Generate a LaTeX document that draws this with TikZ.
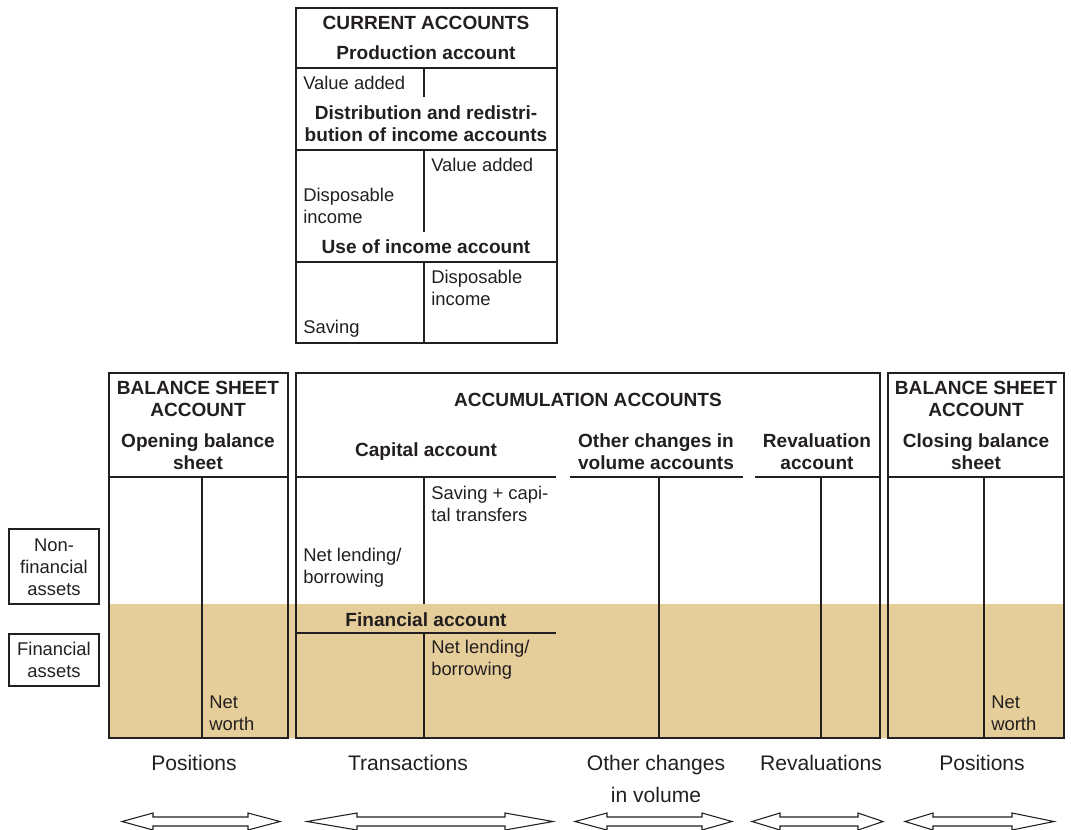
\documentclass[tikz,border=0pt]{standalone}
\usepackage{fontspec}
\setmainfont{Liberation Sans}
\definecolor{ink}{HTML}{231F20}
\definecolor{tanfill}{HTML}{E6CE9A}
\begin{document}
\begin{tikzpicture}[x=0.75pt,y=-0.75pt,
  txt/.style={inner sep=0pt,text=ink,font=\fontsize{13.8}{16.5}\selectfont},
  hd/.style={inner sep=0pt,text=ink,font=\fontsize{14.3}{16.5}\selectfont\bfseries,align=center},
  lbl/.style={inner sep=0pt,text=ink,font=\fontsize{15.8}{24}\selectfont,align=center},
  frame/.style={draw=ink,line width=1.8pt},
  thinframe/.style={draw=ink,line width=1.5pt},
  rule/.style={draw=ink,line width=1.4pt},
  dblarrow/.style={draw=ink,line width=0.8pt,fill=white}]
\useasboundingbox (0,0) rectangle (1071,829);

% ---- current accounts ----
\draw[thinframe] (296,8) rectangle (557,343);
\draw[rule] (296,68) -- (557,68);
\draw[rule] (424,68) -- (424,97);
\draw[rule] (296,150) -- (557,150);
\draw[rule] (424,150) -- (424,232);
\draw[rule] (296,262) -- (557,262);
\draw[rule] (424,262) -- (424,343);
\node[hd] (ca) at (426,23) {CURRENT ACCOUNTS};
\node[hd] (pa) at (426,53) {Production account};
\node[txt,anchor=west] (va1) at (303,83) {Value added};
\node[hd] (dr) at (426,124) {Distribution and redistri-\\bution of income accounts};
\node[txt,anchor=west] (va2) at (431,165) {Value added};
\node[txt,anchor=west,align=left] (di1) at (303,206) {Disposable\\income};
\node[hd] (ui) at (426,247) {Use of income account};
\node[txt,anchor=west,align=left] (di2) at (431,288) {Disposable\\income};
\node[txt,anchor=west] (sv) at (303,329) {Saving};

% ---- tan band ----
\fill[tanfill] (109,604) rectangle (1064,738);

% ---- opening balance sheet ----
\draw[frame] (109,373) rectangle (288,738);
\draw[rule] (109,477) -- (288,477);
\draw[rule] (202,477) -- (202,738);
\node[hd] (bs1) at (198,399) {BALANCE SHEET\\ACCOUNT};
\node[hd] (ob) at (198,452) {Opening balance\\sheet};
\node[txt,anchor=west,align=left] (nw1) at (209,713) {Net\\worth};

% ---- accumulation accounts ----
\draw[frame] (296,373) rectangle (880,738);
\node[hd] (acc) at (588,400) {ACCUMULATION ACCOUNTS};
\node[hd] (cap) at (426,452) {Capital account};
\draw[rule] (296,477) -- (556,477);
\draw[rule] (424,477) -- (424,604);
\node[txt,anchor=west,align=left] (st) at (431,504) {Saving + capi-\\tal transfers};
\node[txt,anchor=west,align=left] (nl1) at (303,568) {Net lending/\\borrowing};
\node[hd] (fa) at (426,620) {Financial account};
\draw[rule] (296,633) -- (556,633);
\draw[rule] (424,633) -- (424,738);
\node[txt,anchor=west,align=left] (nl2) at (431,660) {Net lending/\\borrowing};
\node[hd] (ocv) at (656,452) {Other changes in\\volume accounts};
\draw[rule] (570,477) -- (743,477);
\draw[rule] (659,477) -- (659,738);
\node[hd] (rva) at (817,452) {Revaluation\\account};
\draw[rule] (755,477) -- (880,477);
\draw[rule] (821,477) -- (821,738);

% ---- closing balance sheet ----
\draw[frame] (888,373) rectangle (1064,738);
\draw[rule] (888,477) -- (1064,477);
\draw[rule] (984,477) -- (984,738);
\node[hd] (bs2) at (976,399) {BALANCE SHEET\\ACCOUNT};
\node[hd] (cb) at (976,452) {Closing balance\\sheet};
\node[txt,anchor=west,align=left] (nw2) at (991,713) {Net\\worth};

% ---- side boxes ----
\draw[frame] (9,529) rectangle (99,604);
\node[txt,align=center] (nfa) at (54,567) {Non-\\financial\\assets};
\draw[frame] (9,634) rectangle (99,686);
\node[txt,align=center] (fia) at (54,660) {Financial\\assets};

% ---- bottom labels ----
\node[lbl] (pos1) at (194,763) {Positions};
\node[lbl] (tra) at (408,763) {Transactions};
\node[lbl] (ocl) at (656,779) {Other changes\\in volume};
\node[lbl] (rev) at (821,763) {Revaluations};
\node[lbl] (pos2) at (982,763) {Positions};

% ---- double arrows ----
\begin{scope}
\clip (0,0) rectangle (1071,829);
\foreach \xl/\hl/\hr/\xr in {122/153/248/280, 307/357/505/553, 575/607/702/732, 752/780/858/883, 905/933/1012/1054}{
  \draw[dblarrow] (\xl,821.5) -- (\hl,813) -- (\hl,817) -- (\hr,817) -- (\hr,813) -- (\xr,821.5)
    -- (\hr,830) -- (\hr,826) -- (\hl,826) -- (\hl,830) -- cycle;
}
\end{scope}
\end{tikzpicture}
\end{document}
